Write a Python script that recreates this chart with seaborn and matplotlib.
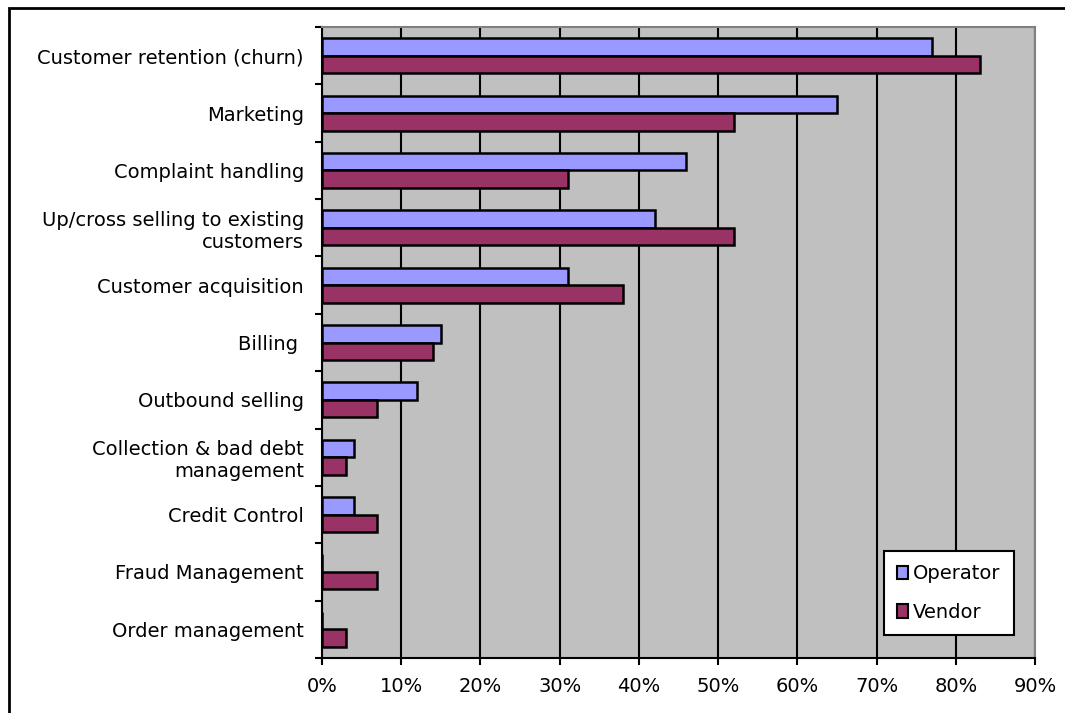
import matplotlib
matplotlib.use("Agg")
import matplotlib.pyplot as plt
import seaborn as sns
import pandas as pd
import numpy as np
from matplotlib.patches import Rectangle, Patch
from matplotlib.ticker import FuncFormatter, FixedLocator

categories = [
    "Customer retention (churn)",
    "Marketing",
    "Complaint handling",
    "Up/cross selling to existing\ncustomers",
    "Customer acquisition",
    "Billing ",
    "Outbound selling",
    "Collection & bad debt\nmanagement",
    "Credit Control",
    "Fraud Management",
    "Order management",
]
operator = [77, 65, 46, 42, 31, 15, 12, 4, 4, 0, 0]
vendor = [83, 52, 31, 52, 38, 14, 7, 3, 7, 7, 3]
series_names = ["Operator", "Vendor"]
x_ticks = [0, 10, 20, 30, 40, 50, 60, 70, 80, 90]

colors = {"Operator": "#9999FF", "Vendor": "#993366"}

df = pd.DataFrame({
    "Category": categories * 2,
    "Series": [series_names[0]] * len(categories) + [series_names[1]] * len(categories),
    "Value": operator + vendor,
})

plt.rcParams["font.family"] = ["DejaVu Sans"]

FS = 14
W, H = 1065, 713
fig = plt.figure(figsize=(W / 100, H / 100), dpi=100)
left, right, top, bottom = 322, 1035, 27, 658
ax = fig.add_axes([left / W, 1 - bottom / H, (right - left) / W, (bottom - top) / H])
ax.set_facecolor("#C0C0C0")

sns.barplot(data=df, x="Value", y="Category", hue="Series", order=categories,
            hue_order=series_names, palette=colors, orient="h", width=0.61,
            saturation=1, edgecolor="black", linewidth=1.8, ax=ax, legend=False, zorder=3)

ax.set_xlim(0, 90)
ax.set_ylim(len(categories) - 0.5, -0.5)
ax.xaxis.set_major_locator(FixedLocator(x_ticks))
ax.xaxis.set_major_formatter(FuncFormatter(lambda v, p: f"{v:.0f}%"))
ax.grid(axis="x", color="black", linewidth=1.5, zorder=1)
ax.grid(axis="y", visible=False)
ax.set_axisbelow(True)

ax.set_yticks(np.arange(len(categories)))
ax.set_yticklabels(categories)
ax.set_yticks(np.arange(len(categories) + 1) - 0.5, minor=True)
ax.tick_params(axis="y", which="major", length=0, pad=13, labelsize=FS)
ax.tick_params(axis="y", which="minor", length=5, width=1.5, color="black")
ax.tick_params(axis="x", which="major", length=5, width=1.5, pad=9, labelsize=FS)
for lab in ax.get_yticklabels():
    lab.set_horizontalalignment("right")
    lab.set_multialignment("right")
ax.set_xlabel("")
ax.set_ylabel("")

for s in ["left", "bottom"]:
    ax.spines[s].set_color("black")
    ax.spines[s].set_linewidth(1.5)
for s in ["top", "right"]:
    ax.spines[s].set_color("#808080")
    ax.spines[s].set_linewidth(1.5)

handles = [Patch(facecolor=colors[n], edgecolor="black", linewidth=1.5, label=n) for n in series_names]
leg = ax.legend(handles=handles, loc="lower right", bbox_to_anchor=(0.9705, 0.036),
                frameon=True, fancybox=False, fontsize=FS, handlelength=0.55,
                handleheight=0.7, handletextpad=0.25, labelspacing=1.0,
                borderpad=0.7, borderaxespad=0)
leg.get_frame().set_edgecolor("black")
leg.get_frame().set_linewidth(1.5)
leg.get_frame().set_facecolor("white")
leg.get_frame().set_alpha(1)
leg.set_zorder(10)

fig.patches.append(Rectangle((9 / W, -0.1), 1.2, (1 - 8 / H) + 0.1, transform=fig.transFigure,
                             fill=False, edgecolor="black", linewidth=2))

fig.savefig("out.png", dpi=100, facecolor="white")
